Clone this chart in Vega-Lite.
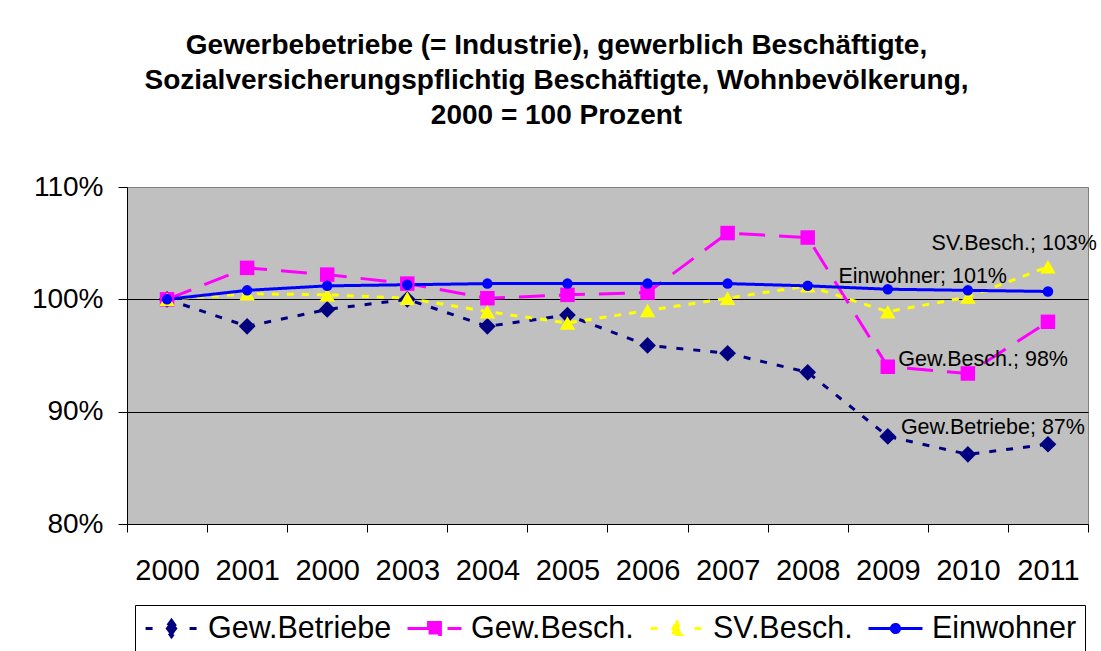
{
  "$schema": "https://vega.github.io/schema/vega-lite/v6.json",
  "width": 961,
  "height": 337,
  "autosize": {"type": "none"},
  "padding": {"left": 127, "top": 187, "right": 13, "bottom": 127},
  "background": "white",
  "title": {
    "text": ["Gewerbebetriebe (= Industrie), gewerblich Beschäftigte,", "Sozialversicherungspflichtig Beschäftigte, Wohnbevölkerung,", "2000 = 100 Prozent"],
    "font": "Liberation Sans",
    "fontSize": 28,
    "fontWeight": "bold",
    "color": "black",
    "lineHeight": 35,
    "anchor": "middle",
    "frame": "group",
    "dx": -51,
    "offset": 43
  },
  "config": {
    "view": {"fill": "#C0C0C0", "stroke": "#808080", "strokeWidth": 1},
    "font": "Liberation Sans"
  },
  "datasets": {
    "series": [
      {"series": "Gew.Betriebe", "slot": "2000", "v": 100.0},
      {"series": "Gew.Betriebe", "slot": "2001", "v": 97.6},
      {"series": "Gew.Betriebe", "slot": "2000b", "v": 99.1},
      {"series": "Gew.Betriebe", "slot": "2003", "v": 100.0},
      {"series": "Gew.Betriebe", "slot": "2004", "v": 97.6},
      {"series": "Gew.Betriebe", "slot": "2005", "v": 98.6},
      {"series": "Gew.Betriebe", "slot": "2006", "v": 95.9},
      {"series": "Gew.Betriebe", "slot": "2007", "v": 95.2},
      {"series": "Gew.Betriebe", "slot": "2008", "v": 93.5},
      {"series": "Gew.Betriebe", "slot": "2009", "v": 87.8},
      {"series": "Gew.Betriebe", "slot": "2010", "v": 86.2},
      {"series": "Gew.Betriebe", "slot": "2011", "v": 87.1},
      {"series": "Gew.Besch.", "slot": "2000", "v": 100.0},
      {"series": "Gew.Besch.", "slot": "2001", "v": 102.8},
      {"series": "Gew.Besch.", "slot": "2000b", "v": 102.2},
      {"series": "Gew.Besch.", "slot": "2003", "v": 101.4},
      {"series": "Gew.Besch.", "slot": "2004", "v": 100.1},
      {"series": "Gew.Besch.", "slot": "2005", "v": 100.4},
      {"series": "Gew.Besch.", "slot": "2006", "v": 100.6},
      {"series": "Gew.Besch.", "slot": "2007", "v": 105.9},
      {"series": "Gew.Besch.", "slot": "2008", "v": 105.5},
      {"series": "Gew.Besch.", "slot": "2009", "v": 94.0},
      {"series": "Gew.Besch.", "slot": "2010", "v": 93.4},
      {"series": "Gew.Besch.", "slot": "2011", "v": 98.0},
      {"series": "SV.Besch.", "slot": "2000", "v": 100.0},
      {"series": "SV.Besch.", "slot": "2001", "v": 100.5},
      {"series": "SV.Besch.", "slot": "2000b", "v": 100.4},
      {"series": "SV.Besch.", "slot": "2003", "v": 100.1},
      {"series": "SV.Besch.", "slot": "2004", "v": 98.9},
      {"series": "SV.Besch.", "slot": "2005", "v": 97.9},
      {"series": "SV.Besch.", "slot": "2006", "v": 99.0},
      {"series": "SV.Besch.", "slot": "2007", "v": 100.1},
      {"series": "SV.Besch.", "slot": "2008", "v": 101.2},
      {"series": "SV.Besch.", "slot": "2009", "v": 98.9},
      {"series": "SV.Besch.", "slot": "2010", "v": 100.2},
      {"series": "SV.Besch.", "slot": "2011", "v": 102.9},
      {"series": "Einwohner", "slot": "2000", "v": 100.0},
      {"series": "Einwohner", "slot": "2001", "v": 100.8},
      {"series": "Einwohner", "slot": "2000b", "v": 101.2},
      {"series": "Einwohner", "slot": "2003", "v": 101.3},
      {"series": "Einwohner", "slot": "2004", "v": 101.4},
      {"series": "Einwohner", "slot": "2005", "v": 101.4},
      {"series": "Einwohner", "slot": "2006", "v": 101.4},
      {"series": "Einwohner", "slot": "2007", "v": 101.4},
      {"series": "Einwohner", "slot": "2008", "v": 101.2},
      {"series": "Einwohner", "slot": "2009", "v": 100.9},
      {"series": "Einwohner", "slot": "2010", "v": 100.8},
      {"series": "Einwohner", "slot": "2011", "v": 100.7}
    ],
    "labels": [
      {"series": "SV.Besch.", "slot": "2011", "v": 102.9, "txt": "SV.Besch.; 103%"},
      {"series": "Einwohner", "slot": "2011", "v": 100.7, "txt": "Einwohner; 101%"},
      {"series": "Gew.Besch.", "slot": "2011", "v": 98.0, "txt": "Gew.Besch.; 98%"},
      {"series": "Gew.Betriebe", "slot": "2011", "v": 87.1, "txt": "Gew.Betriebe; 87%"}
    ]
  },
  "layer": [
    {
      "data": {"name": "series"},
      "mark": {"type": "line", "strokeWidth": 3},
      "encoding": {
        "x": {
          "field": "slot", "type": "ordinal", "bandPosition": 0.5,
          "scale": {"type": "band", "paddingInner": 0, "paddingOuter": 0,
                    "domain": ["2000", "2001", "2000b", "2003", "2004", "2005", "2006", "2007", "2008", "2009", "2010", "2011"]},
          "axis": {"title": null, "labelAngle": 0, "labelFontSize": 29, "labelFont": "Liberation Sans", "labelColor": "black",
                   "tickColor": "black", "tickSize": 8, "tickBand": "extent", "domainColor": "black", "labelPadding": 24,
                   "grid": false, "labelExpr": "replace(datum.label, 'b', '')"}
        },
        "y": {
          "field": "v", "type": "quantitative",
          "scale": {"domain": [80, 110], "nice": false, "zero": false},
          "axis": {"title": null, "values": [80, 90, 100, 110], "labelExpr": "datum.value + '%'", "labelFontSize": 28,
                   "labelFont": "Liberation Sans", "labelColor": "black", "tickColor": "black", "tickSize": 9,
                   "domainColor": "black", "labelPadding": 15, "grid": true, "gridOpacity": 1,
                   "gridColor": {"condition": {"test": "datum.value == 90 || datum.value == 100", "value": "#000000"}, "value": "#808080"}}
        },
        "color": {
          "field": "series", "type": "nominal",
          "scale": {"domain": ["Gew.Betriebe", "Gew.Besch.", "SV.Besch.", "Einwohner"], "range": ["#000080", "#FF00FF", "#FFFF00", "#0000FF"]},
          "legend": {
            "title": null, "orient": "none", "legendX": 8, "legendY": 418, "direction": "horizontal", "columns": 4,
            "labelFontSize": 30.5, "labelFont": "Liberation Sans", "labelColor": "black", "labelLimit": 400,
            "strokeColor": "black", "fillColor": "white",
            "padding": 8, "symbolSize": 2916, "symbolStrokeWidth": 3, "clipHeight": 31, "labelOffset": 8, "columnPadding": 14,
            "symbolDash": [1, 0], "symbolOpacity": 1,
            "symbolFillColor": {"expr": "scale('color', datum.value)"},
            "symbolType": {"expr": "datum.value === 'Gew.Betriebe' ? 'M-0.96,0H-0.67M0.67,0H0.96M0,-0.3L0.22,0L0,0.3L-0.22,0Z' : datum.value === 'Gew.Besch.' ? 'M-1,0H1M-0.22,-0.22H0.22V0.22H-0.22Z' : datum.value === 'SV.Besch.' ? 'M-0.96,0H-0.67M0.67,0H0.96M0,-0.3L0.2,0.22H-0.2Z' : 'M-1,0H1M-0.15,0A0.15,0.15,0,1,1,0.15,0A0.15,0.15,0,1,1,-0.15,0Z'"}
          }
        },
        "strokeDash": {
          "field": "series", "type": "nominal",
          "scale": {"domain": ["Gew.Betriebe", "Gew.Besch.", "SV.Besch.", "Einwohner"], "range": [[7, 10], [26, 14], [7, 8], [1, 0]]},
          "legend": null
        }
      }
    },
    {
      "data": {"name": "series"},
      "transform": [{"filter": "datum.series === 'Gew.Betriebe'"}],
      "mark": {"type": "point", "shape": "diamond", "filled": true, "size": 280, "color": "#000080", "opacity": 1, "strokeWidth": 0},
      "encoding": {
        "x": {"field": "slot", "type": "ordinal", "bandPosition": 0.5},
        "y": {"field": "v", "type": "quantitative"}
      }
    },
    {
      "data": {"name": "series"},
      "transform": [{"filter": "datum.series === 'Gew.Besch.'"}],
      "mark": {"type": "point", "shape": "square", "filled": true, "size": 210, "color": "#FF00FF", "opacity": 1, "strokeWidth": 0},
      "encoding": {
        "x": {"field": "slot", "type": "ordinal", "bandPosition": 0.5},
        "y": {"field": "v", "type": "quantitative"}
      }
    },
    {
      "data": {"name": "series"},
      "transform": [{"filter": "datum.series === 'SV.Besch.'"}],
      "mark": {"type": "point", "shape": "triangle-up", "filled": true, "size": 240, "color": "#FFFF00", "opacity": 1, "strokeWidth": 0},
      "encoding": {
        "x": {"field": "slot", "type": "ordinal", "bandPosition": 0.5},
        "y": {"field": "v", "type": "quantitative"}
      }
    },
    {
      "data": {"name": "series"},
      "transform": [{"filter": "datum.series === 'Einwohner'"}],
      "mark": {"type": "point", "shape": "circle", "filled": true, "size": 110, "color": "#0000FF", "opacity": 1, "strokeWidth": 0},
      "encoding": {
        "x": {"field": "slot", "type": "ordinal", "bandPosition": 0.5},
        "y": {"field": "v", "type": "quantitative"}
      }
    },
    {
      "data": {"name": "labels"},
      "transform": [{"filter": "datum.series === 'SV.Besch.'"}],
      "mark": {"type": "text", "font": "Liberation Sans", "fontSize": 21.5, "color": "black", "align": "right", "baseline": "middle", "dx": 49, "dy": -23},
      "encoding": {
        "x": {"field": "slot", "type": "ordinal", "bandPosition": 0.5},
        "y": {"field": "v", "type": "quantitative"},
        "text": {"field": "txt"}
      }
    },
    {
      "data": {"name": "labels"},
      "transform": [{"filter": "datum.series === 'Einwohner'"}],
      "mark": {"type": "text", "font": "Liberation Sans", "fontSize": 21.5, "color": "black", "align": "right", "baseline": "middle", "dx": -41, "dy": -14},
      "encoding": {
        "x": {"field": "slot", "type": "ordinal", "bandPosition": 0.5},
        "y": {"field": "v", "type": "quantitative"},
        "text": {"field": "txt"}
      }
    },
    {
      "data": {"name": "labels"},
      "transform": [{"filter": "datum.series === 'Gew.Besch.'"}],
      "mark": {"type": "text", "font": "Liberation Sans", "fontSize": 21.5, "color": "black", "align": "right", "baseline": "middle", "dx": 20, "dy": 38},
      "encoding": {
        "x": {"field": "slot", "type": "ordinal", "bandPosition": 0.5},
        "y": {"field": "v", "type": "quantitative"},
        "text": {"field": "txt"}
      }
    },
    {
      "data": {"name": "labels"},
      "transform": [{"filter": "datum.series === 'Gew.Betriebe'"}],
      "mark": {"type": "text", "font": "Liberation Sans", "fontSize": 21.5, "color": "black", "align": "right", "baseline": "middle", "dx": 37, "dy": -16},
      "encoding": {
        "x": {"field": "slot", "type": "ordinal", "bandPosition": 0.5},
        "y": {"field": "v", "type": "quantitative"},
        "text": {"field": "txt"}
      }
    }
  ]
}
